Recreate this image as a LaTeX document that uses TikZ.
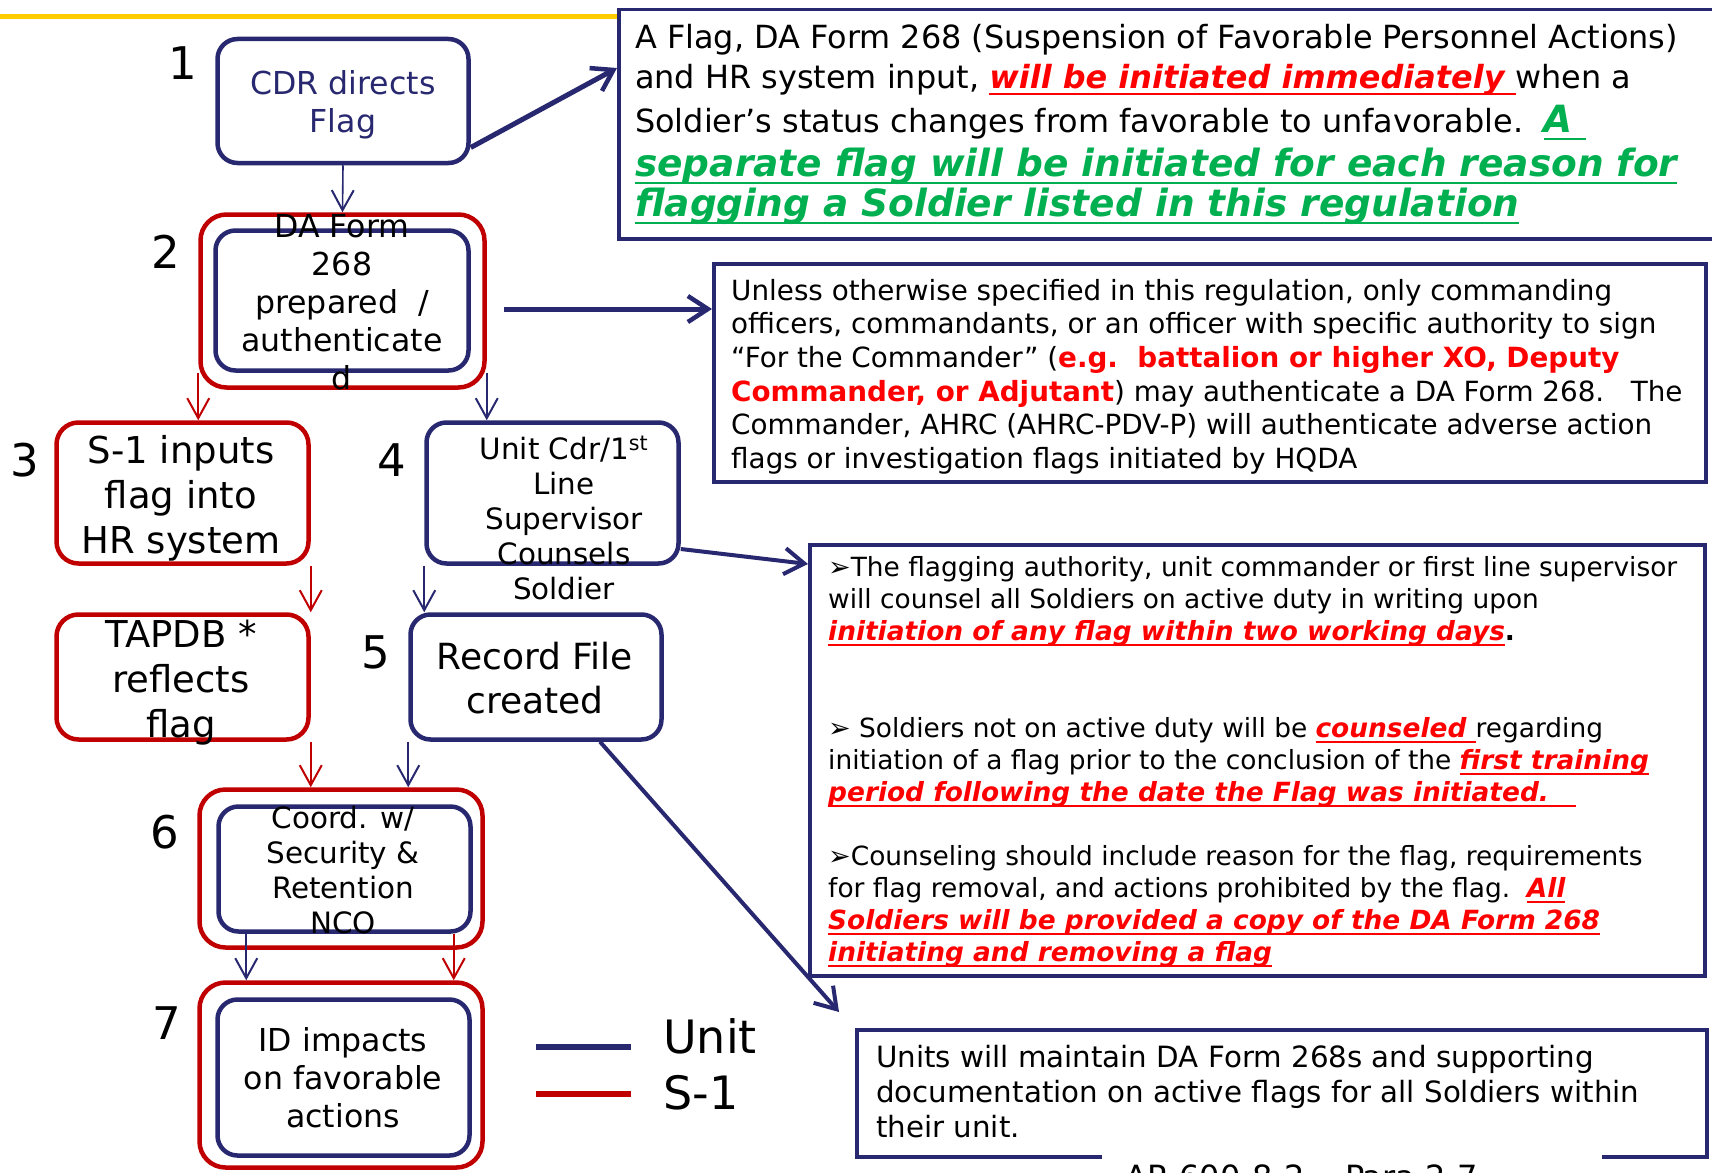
\documentclass[tikz,border=0pt]{standalone}
\usepackage{fontspec}
\setmainfont{DejaVu Sans}
\usetikzlibrary{arrows.meta,calc}
\definecolor{navy}{RGB}{40,40,112}
\definecolor{boxred}{RGB}{192,0,0}
\definecolor{txtred}{RGB}{255,0,0}
\definecolor{txtgreen}{RGB}{0,176,80}
\definecolor{barY}{RGB}{255,204,0}
\newcommand{\fsz}[2]{\fontsize{#1}{#2}\selectfont}
\newsavebox{\ulbox}
\newcommand{\myul}[1]{\sbox{\ulbox}{#1}\rlap{\rule[-0.2em]{\wd\ulbox}{1.8pt}}\usebox{\ulbox}}
\newcommand{\redbi}[1]{\textcolor{txtred}{\bfseries\itshape\myul{#1}}}
\newcommand{\grnbi}[1]{\textcolor{txtgreen}{\bfseries\itshape\myul{#1}}}
\newcommand{\redb}[1]{\textcolor{txtred}{\bfseries #1}}
\newcommand{\arrhd}{{\fsz{27}{27}➢}}
\begin{document}
\begin{tikzpicture}[x=1pt,y=-1pt,
 ubox/.style={draw=navy,line width=4.5pt,rounded corners=20pt,inner sep=0pt},
 sbox/.style={draw=boxred,line width=4.5pt,rounded corners=26pt,inner sep=0pt},
 tbox/.style={draw=navy,line width=3.5pt,inner sep=0pt,anchor=north west},
 lbl/.style={align=center,inner sep=0pt},
 para/.style={align=left,inner sep=0pt,anchor=north west},
 num/.style={inner sep=0pt,font=\fsz{45}{54}},
 uarr/.style={draw=navy,line width=1.6pt,-{Straight Barb[length=20pt,width=22pt,line width=2pt]}},
 sarr/.style={draw=boxred,line width=1.6pt,-{Straight Barb[length=20pt,width=22pt,line width=2pt]}},
 bigarr/.style={draw=navy,line width=5pt,-{Straight Barb[length=20pt,width=26pt,line width=4.5pt]}},
 midarr/.style={draw=navy,line width=4pt,-{Straight Barb[length=20pt,width=26pt,line width=4pt]}},
]
\useasboundingbox (0,0) rectangle (1712,1172);
\fill[white] (0,0) rectangle (1712,1172);
\draw[barY,line width=5pt] (0,16.5) -- (620,16.5);

% flow boxes
\node[ubox,minimum width=251pt,minimum height=124pt] (box1) at (343,101) {};
\node[sbox,minimum width=284pt,minimum height=173pt] (box2o) at (342.5,301) {};
\node[ubox,minimum width=253pt,minimum height=140pt] (box2i) at (342,300.5) {};
\node[sbox,rounded corners=22pt,minimum width=252pt,minimum height=141pt] (box3) at (182.5,493) {};
\node[ubox,minimum width=252pt,minimum height=141pt] (box4) at (552.5,493) {};
\node[sbox,rounded corners=22pt,minimum width=252pt,minimum height=125pt] (tapdb) at (182.5,677) {};
\node[ubox,minimum width=251pt,minimum height=125pt] (box5) at (536,677) {};
\node[sbox,minimum width=283pt,minimum height=158pt] (box6o) at (341,868.5) {};
\node[ubox,minimum width=252pt,minimum height=125pt] (box6i) at (344.5,869) {};
\node[sbox,minimum width=283pt,minimum height=185pt] (box7o) at (341,1075) {};
\node[ubox,minimum width=252pt,minimum height=156pt] (box7i) at (343.5,1077.5) {};

% box labels
\node[lbl,text=navy,font=\fsz{31.6}{38}] (t1) at (343,105) {CDR directs\\Flag};
\node[lbl,font=\fsz{31.6}{38}] (t2) at (342,302) {DA Form\\268\\prepared\ \ /\\authenticate\\d};
\node[lbl,font=\fsz{37}{45}] (t3) at (181,498.5) {S-1 inputs\\flag into\\HR system};
\node[lbl,font=\fsz{29.4}{35}] (t4) at (564,518) {Unit Cdr/1\textsuperscript{st}\\Line\\Supervisor\\Counsels\\Soldier};
\node[lbl,font=\fsz{37}{45}] (tT) at (181,682.5) {TAPDB *\\reflects\\flag};
\node[lbl,font=\fsz{36}{44}] (t5) at (535,678) {Record File\\created};
\node[lbl,font=\fsz{29.4}{35}] (t6) at (343,870) {Coord. w/\\Security \&\\Retention\\NCO};
\node[lbl,font=\fsz{31.6}{38}] (t7) at (343,1078) {ID impacts\\on favorable\\actions};

% step numbers
\node[num] (n1) at (183,63) {1};
\node[num] (n2) at (166,252) {2};
\node[num] (n3) at (25,460) {3};
\node[num] (n4) at (392,460) {4};
\node[num] (n5) at (376,652) {5};
\node[num] (n6) at (165,832) {6};
\node[num] (n7) at (167,1023) {7};

% text boxes
\node[tbox,minimum width=1103pt,minimum height=229pt] (boxA) at (617,8) {};
\node[tbox,minimum width=992pt,minimum height=218pt] (boxB) at (712,262) {};
\node[tbox,minimum width=895pt,minimum height=431pt] (boxC) at (808,543) {};
\node[tbox,minimum width=850pt,minimum height=127pt] (boxD) at (855,1028) {};

\node[para,font=\fsz{31.9}{40}] (txtA) at (635,24) {A Flag, DA Form 268 (Suspension of Favorable Personnel Actions)\\
and HR system input, \redbi{will be initiated immediately\ }when a\\[4pt]
Soldier’s status changes from favorable to unfavorable.\ \ {\fsz{37.5}{40}\grnbi{A\ }}\\[4pt]
{\fsz{37.5}{40}\grnbi{separate flag will be initiated for each reason for}}\\
{\fsz{37.5}{40}\grnbi{flagging a Soldier listed in this regulation}}};

\node[para,font=\fsz{27.8}{33.6}] (txtB) at (731,279) {Unless otherwise specified in this regulation, only commanding\\
officers, commandants, or an officer with specific authority to sign\\
“For the Commander” (\redb{e.g.\ \ battalion or higher XO, Deputy}\\
\redb{Commander, or Adjutant}) may authenticate a DA Form 268.\ \ \ The\\
Commander, AHRC (AHRC-PDV-P) will authenticate adverse action\\
flags or investigation flags initiated by HQDA};

\node[para,font=\fsz{26.4}{32}] (txtC) at (828,556) {\arrhd The flagging authority, unit commander or first line supervisor\\
will counsel all Soldiers on active duty in writing upon\\
\redbi{initiation of any flag within two working days}\textbf{.}\\[65pt]
\arrhd\ Soldiers not on active duty will be \redbi{counseled\ }regarding\\
initiation of a flag prior to the conclusion of the \redbi{first training}\\
\redbi{period following the date the Flag was initiated.\ \ \ }\\[32pt]
\arrhd Counseling should include reason for the flag, requirements\\
for flag removal, and actions prohibited by the flag.\ \ \redbi{All}\\
\redbi{Soldiers will be provided a copy of the DA Form 268}\\
\redbi{initiating and removing a flag}};

\node[para,font=\fsz{29.3}{35}] (txtD) at (876,1045) {Units will maintain DA Form 268s and supporting\\
documentation on active flags for all Soldiers within\\
their unit.};

% connectors
\draw[uarr] (box1.south) -- (box2o.north);
\draw[bigarr] (box1.-20) -- ($(boxA.north west)+(0,60)$);
\draw[bigarr] ($(box2o.east)+(17,8)$) -- ($(boxB.north west)+(0,47)$);
\draw[sarr] (box2o.west |- box2i.south) -- (box2o.west |- box3.north);
\draw[uarr] (box2o.east |- box2i.south) -- (box2o.east |- box4.north);
\draw[sarr] (box3.south east) -- (tapdb.north east);
\draw[uarr] (box4.south west) -- (box4.south west |- box5.north);
\draw[midarr] ($(box4.east)+(0,56)$) -- ($(boxC.north west)+(0,21)$);
\draw[sarr] (tapdb.south east) -- (tapdb.south east |- box6o.north);
\draw[uarr] (box5.south west) -- (box5.south west |- box6o.north);
\coordinate (s6u) at ($(box6i.south west)+(30,0)$);
\coordinate (s6s) at ($(box6i.south east)+(-19,0)$);
\draw[uarr] (s6u) -- (s6u |- box7o.north);
\draw[sarr] (s6s) -- (s6s |- box7o.north);
\coordinate (s5) at ($(box5.south)+(64,0)$);
\draw[midarr] (s5) -- ($(boxD.north west)+(-16,-16)$);

% legend
\draw[navy,line width=6pt] (536,1047) -- (631,1047);
\draw[boxred,line width=6pt] (536,1094) -- (631,1094);
\node[anchor=west,inner sep=0pt,font=\fsz{46}{50}] (legU) at (663,1036) {Unit};
\node[anchor=west,inner sep=0pt,font=\fsz{46}{50}] (legS) at (663,1093) {S-1};

% source reference
\fill[white] (1102,1145) rectangle (1602,1175);
\node[anchor=base west,inner sep=0pt,font=\fsz{32}{36}] (ref) at (1125,1188) {AR 600-8-2 ,\ \ Para 2-7};
\end{tikzpicture}
\end{document}
